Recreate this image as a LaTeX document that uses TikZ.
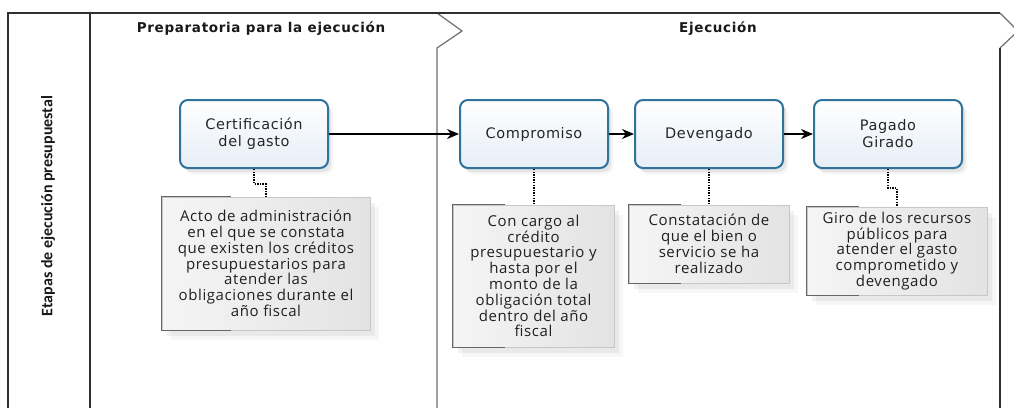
\documentclass[tikz,border=0pt]{standalone}
\usepackage{fontspec}
\usetikzlibrary{shadows,arrows.meta}
\newfontfamily\boxfont[LetterSpace=4]{DejaVu Sans}
\newfontfamily\titlefont[LetterSpace=5]{DejaVu Sans}
\newfontfamily\annfont[LetterSpace=4]{Open Sans}
\newfontfamily\lanefont{Carlito}
\definecolor{taskblue}{HTML}{2F729B}
\definecolor{taskfill}{HTML}{E6EEF7}
\definecolor{poolcol}{HTML}{303030}
\definecolor{phasecol}{HTML}{707070}
\definecolor{anntext}{HTML}{202020}
\tikzset{
  poolline/.style={draw=poolcol, line width=1.4pt},
  phaseline/.style={draw=phasecol, line width=1.2pt, line join=miter},
  task/.style={draw=taskblue, line width=2pt, rounded corners=8pt,
    top color=white, bottom color=taskfill,
    minimum width=148pt, minimum height=68pt, align=center,
    text=black!85, font=\boxfont\fontsize{14.5}{17}\selectfont,
    drop shadow={shadow xshift=3pt, shadow yshift=-4pt, opacity=0.14},
    drop shadow={shadow xshift=5pt, shadow yshift=-6pt, opacity=0.08}},
  annot/.style={draw=black!22, line width=0.6pt, left color=black!4, right color=black!11,
    align=center, text=anntext, font=\annfont\fontsize{15}{15.8}\selectfont,
    inner sep=2pt,
    drop shadow={shadow xshift=5pt, shadow yshift=-6pt, opacity=0.10},
    drop shadow={shadow xshift=9pt, shadow yshift=-10pt, opacity=0.07}},
  bracket/.style={draw=black!60, line width=1.1pt},
  assoc/.style={draw=black, line width=2.2pt, dash pattern=on 1.4pt off 1.2pt},
  flow/.style={draw=black, line width=1.3pt, -{Stealth[length=12pt,width=10pt]}},
  phasetitle/.style={font=\titlefont\bfseries\fontsize{13.5}{15}\selectfont, text=black!90},
  lanetitle/.style={font=\lanefont\bfseries\fontsize{16}{18}\selectfont, text=black!90, rotate=90}
}
\begin{document}
\begin{tikzpicture}[x=1pt,y=-1pt]
\useasboundingbox (0,0) rectangle (1014,407);
\clip (0,0) rectangle (1014,407);
\fill[white] (0,0) rectangle (1014,407);

% pool and phases
\draw[phaseline] (437,13) -- (462,31) -- (437,48) -- (437,410);
\draw[phaseline] (1000,13) -- (1018,31) -- (1000,48);
\draw[poolline] (8,410) -- (8,13) -- (1000,13);
\draw[poolline] (90,13) -- (90,410);
\draw[poolline] (1000,48) -- (1000,410);

\node[lanetitle] (lane) at (48,206) {Etapas de ejecución presupuestal};
\node[phasetitle] (ph1) at (261,29) {Preparatoria para la ejecución};
\node[phasetitle] (ph2) at (718,29) {Ejecución};

% tasks
\node[task] (cert) at (254,134) {Certificación\\del gasto};
\node[task] (comp) at (534,134) {Compromiso};
\node[task] (dev) at (709,134) {Devengado};
\node[task] (pag) at (888,134) {Pagado\\Girado};

% annotations
\node[annot, minimum width=208pt, minimum height=133pt] (ann1) at (266,263.5)
  {Acto de administración\\en el que se constata\\que existen los créditos\\presupuestarios  para\\atender las\\obligaciones durante el\\año fiscal};
\node[annot, minimum width=161pt, minimum height=142pt] (ann2) at (533.5,276)
  {Con cargo al\\crédito\\presupuestario y\\hasta por el\\monto de la\\obligación total\\dentro del año\\fiscal};
\node[annot, minimum width=160pt, minimum height=78pt] (ann3) at (709,244)
  {Constatación de\\que el bien o\\servicio se ha\\realizado};
\node[annot, minimum width=180pt, minimum height=88pt] (ann4) at (897,251)
  {Giro de los recursos\\públicos para\\atender el gasto\\comprometido y\\devengado};

% annotation brackets
\draw[bracket] ([xshift=69pt]ann1.north west) -- (ann1.north west) -- (ann1.south west) -- ([xshift=69pt]ann1.south west);
\draw[bracket] ([xshift=52pt]ann2.north west) -- (ann2.north west) -- (ann2.south west) -- ([xshift=52pt]ann2.south west);
\draw[bracket] ([xshift=52pt]ann3.north west) -- (ann3.north west) -- (ann3.south west) -- ([xshift=52pt]ann3.south west);
\draw[bracket] ([xshift=52pt]ann4.north west) -- (ann4.north west) -- (ann4.south west) -- ([xshift=52pt]ann4.south west);

% associations
\draw[assoc] (cert.south) -- ++(0,15) -| (ann1.north);
\draw[assoc] (comp.south) -- (comp.south |- ann2.north);
\draw[assoc] (dev.south) -- (dev.south |- ann3.north);
\draw[assoc] (pag.south) -- ++(0,19) -| (ann4.north);

% sequence flows
\draw[flow] (cert.east) -- (comp.west);
\draw[flow] (comp.east) -- (dev.west);
\draw[flow] (dev.east) -- (pag.west);
\end{tikzpicture}
\end{document}
